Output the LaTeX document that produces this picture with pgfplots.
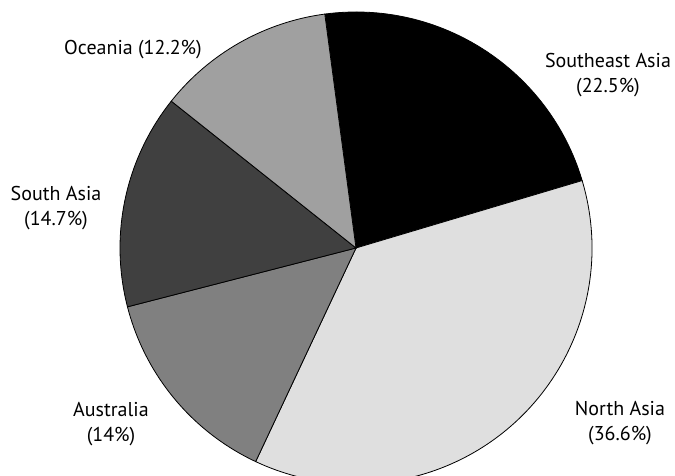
\documentclass[border=0pt]{standalone}
\usepackage{pgfplots}
\pgfplotsset{compat=1.18}
\usepackage{pgfplotstable}
\usepackage{fontspec}
\setmainfont{PT Sans}
\definecolor{cSE}{gray}{0.0}
\definecolor{cNA}{gray}{0.875}
\definecolor{cAU}{gray}{0.5}
\definecolor{cSA}{gray}{0.25}
\definecolor{cOC}{gray}{0.627}
\pgfplotstableread{
region pct col
SoutheastAsia 22.5 cSE
NorthAsia 36.6 cNA
Australia 14.0 cAU
SouthAsia 14.7 cSA
Oceania 12.2 cOC
}\piedata
\begin{document}
\begin{tikzpicture}
\begin{axis}[scale only axis, width=675pt, height=476pt,
  xmin=0, xmax=675, ymin=0, ymax=476, hide axis, clip=true]
\path (axis cs:0,0) rectangle (axis cs:675,476);
\def\cur{97.6}
\pgfplotsforeachungrouped \i in {0,...,4}{%
  \pgfplotstablegetelem{\i}{pct}\of\piedata \let\p\pgfplotsretval
  \pgfplotstablegetelem{\i}{col}\of\piedata \let\c\pgfplotsretval
  \pgfmathsetmacro\nxt{\cur-3.6*\p}%
  \edef\cmd{\noexpand\filldraw[fill=\c,draw=black,line width=0.8pt] (axis cs:356,228) -- +(\cur:236pt) arc[start angle=\cur, end angle=\nxt, radius=236pt] -- cycle;}%
  \cmd
  \global\let\cur\nxt
}
\tikzset{lab/.style={align=center, font=\fontsize{20}{25}\selectfont, inner sep=0pt}}
\node[lab] at (axis cs:133,426) {Oceania (12.2\%)};
\node[lab] at (axis cs:608,400.5) {Southeast Asia\\(22.5\%)};
\node[lab] at (axis cs:56,267.5) {South Asia\\(14.7\%)};
\node[lab] at (axis cs:111,51.5) {Australia\\(14\%)};
\node[lab] at (axis cs:620,52.5) {North Asia\\(36.6\%)};
\end{axis}
\end{tikzpicture}
\end{document}
